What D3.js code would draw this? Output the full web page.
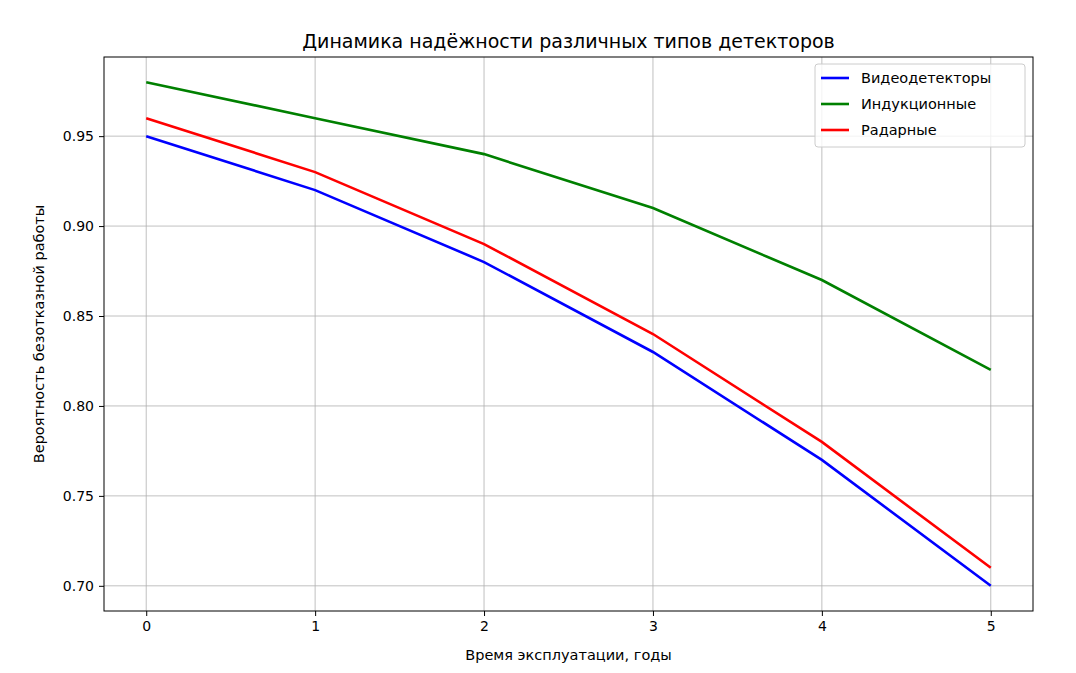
<!DOCTYPE html>
<html><head><meta charset="utf-8">
<script src="https://cdn.jsdelivr.net/npm/d3@7"></script>
<style>body{margin:0;background:#fff;font-family:"DejaVu Sans",sans-serif}</style>
</head><body><svg id="vis" width="1076" height="673"></svg>
<script>
const years = [0, 1, 2, 3, 4, 5]
const video = [0.95, 0.92, 0.88, 0.83, 0.77, 0.70]
const induction = [0.98, 0.96, 0.94, 0.91, 0.87, 0.82]
const radar = [0.96, 0.93, 0.89, 0.84, 0.78, 0.71]
const yTicks = [0.70, 0.75, 0.80, 0.85, 0.90, 0.95]
const series = [
    {name: "Видеодетекторы", values: video, color: "#0000ff"},
    {name: "Индукционные", values: induction, color: "#008000"},
    {name: "Радарные", values: radar, color: "#ff0000"}
]

const mLeft = 104, mRight = 1033, mTop = 57, mBottom = 611
const svg = d3.select("#vis")
const x = d3.scaleLinear().domain([-0.25, 5.25]).range([mLeft, mRight])
const y = d3.scaleLinear().domain([0.686, 0.994]).range([mBottom, mTop])

// grid
svg.append("g").selectAll("line").data(years).join("line")
    .attr("x1", d => x(d)).attr("x2", d => x(d)).attr("y1", mTop).attr("y2", mBottom)
    .attr("stroke", "#b0b0b0").attr("stroke-width", 0.8)
svg.append("g").selectAll("line").data(yTicks).join("line")
    .attr("y1", d => y(d)).attr("y2", d => y(d)).attr("x1", mLeft).attr("x2", mRight)
    .attr("stroke", "#b0b0b0").attr("stroke-width", 0.8)

svg.append("g").attr("transform", `translate(0,${mBottom})`)
    .call(d3.axisBottom(x).tickValues(years).tickFormat(d3.format("d")).tickSizeOuter(0).tickSize(5).tickPadding(5))
svg.append("g").attr("transform", `translate(${mLeft},0)`)
    .call(d3.axisLeft(y).tickValues(yTicks).tickFormat(d3.format(".2f")).tickSizeOuter(0).tickSize(5).tickPadding(5))
svg.selectAll(".tick text").style("font-size", "14px").style("font-family", "DejaVu Sans").attr("fill", "#000")
svg.selectAll(".domain").remove()

svg.append("rect").attr("x", mLeft).attr("y", mTop).attr("width", mRight - mLeft).attr("height", mBottom - mTop)
    .attr("fill", "none").attr("stroke", "#000").attr("stroke-width", 1)

const line = d3.line().x((d, i) => x(years[i])).y(d => y(d))
svg.append("g").selectAll("path").data(series).join("path")
    .attr("d", d => line(d.values)).attr("fill", "none")
    .attr("stroke", d => d.color).attr("stroke-width", 2.6)

svg.append("text").attr("x", (mLeft + mRight) / 2).attr("y", 48).attr("text-anchor", "middle")
    .style("font-size", "19px").text("Динамика надёжности различных типов детекторов")
svg.append("text").attr("x", (mLeft + mRight) / 2).attr("y", 660).attr("text-anchor", "middle")
    .style("font-size", "14.5px").text("Время эксплуатации, годы")
svg.append("text").attr("transform", `translate(44,${(mTop + mBottom) / 2}) rotate(-90)`).attr("text-anchor", "middle")
    .style("font-size", "14.5px").text("Вероятность безотказной работы")

// legend
const lg = svg.append("g").attr("transform", "translate(815,64)")
lg.append("rect").attr("width", 210).attr("height", 83).attr("rx", 3)
    .attr("fill", "#fff").attr("fill-opacity", 0.8).attr("stroke", "#ccc")
const item = lg.selectAll("g").data(series).join("g").attr("transform", (d, i) => `translate(0,${14 + i * 26})`)
item.append("line").attr("x1", 6).attr("x2", 34).attr("stroke", d => d.color).attr("stroke-width", 2.6)
item.append("text").attr("x", 46).attr("dy", "0.35em").style("font-size", "14.5px").text(d => d.name)
</script></body></html>
